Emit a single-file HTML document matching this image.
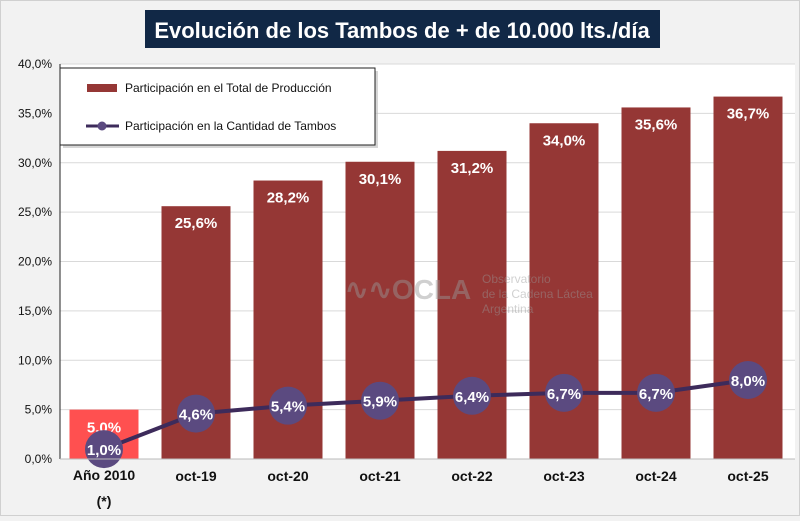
<!DOCTYPE html>
<html><head><meta charset="utf-8"><style>
body{margin:0;background:#f2f2f2;font-family:"Liberation Sans",sans-serif;}
svg text{font-family:"Liberation Sans",sans-serif;}
</style></head><body>
<svg width="800" height="516" viewBox="0 0 800 516">
<rect x="0" y="0" width="800" height="516" fill="#f2f2f2"/>
<rect x="0.5" y="0.5" width="799" height="515" fill="none" stroke="#d0d0d0"/>
<rect x="145" y="10" width="515" height="38" fill="#112846"/>
<text x="402" y="38" text-anchor="middle" font-size="22" font-weight="bold" fill="#fff">Evolución  de los Tambos  de + de 10.000 lts./día</text>
<rect x="60" y="64" width="735" height="395" fill="#fff"/>
<g id="grid"></g><g id="bars"></g>
<g opacity="0.45" fill="#999">
<text x="345" y="299" font-size="28" font-weight="bold">∿∿OCLA</text>
<text x="482" y="283" font-size="12">Observatorio</text>
<text x="482" y="298" font-size="12">de la Cadena Láctea</text>
<text x="482" y="313" font-size="12">Argentina</text>
</g>
<g id="line"></g><g id="axes"></g>
<g>
<rect x="63" y="71" width="315" height="77" fill="#bbb" opacity="0.6"/>
<rect x="60" y="68" width="315" height="77" fill="#fff" stroke="#222" stroke-width="1"/>
<rect x="87" y="84" width="30" height="8" fill="#953735"/>
<text x="125" y="92" font-size="12" fill="#111">Participación en el Total de Producción</text>
<line x1="86" y1="126" x2="119" y2="126" stroke="#3d2b5b" stroke-width="3"/>
<circle cx="102" cy="126" r="4.5" fill="#5b4a80"/>
<text x="125" y="130" font-size="12" fill="#111">Participación en la Cantidad de Tambos</text>
</g>
</svg>
<script>
const categories=["Año 2010","oct-19","oct-20","oct-21","oct-22","oct-23","oct-24","oct-25"];
const production=[5.0,25.6,28.2,30.1,31.2,34.0,35.6,36.7];
const tambos=[1.0,4.6,5.4,5.9,6.4,6.7,6.7,8.0];
const yTicks=[0,5,10,15,20,25,30,35,40];
const NS="http://www.w3.org/2000/svg";
const x0=58,band=92,yBase=459,pxPer=9.875;
const xc=i=>x0+band/2+i*band;
const y=v=>yBase-v*pxPer;
const fmt=v=>v.toFixed(1).replace('.',',')+'%';
function mk(tag,attrs,parent,txt){const e=document.createElementNS(NS,tag);for(const k in attrs)e.setAttribute(k,attrs[k]);if(txt!==undefined)e.textContent=txt;document.getElementById(parent).appendChild(e);return e;}
yTicks.forEach(t=>{
 const g=mk('line',{x1:60,x2:795,y1:y(t),y2:y(t),stroke:'#d9d9d9'},'grid');
 
 
 const l=mk('text',{x:52,y:y(t)+4,'text-anchor':'end','font-size':12,fill:'#111'},'axes',t.toFixed(1).replace('.',',')+'%');
 
 
});
const ax=mk('line',{x1:60,x2:60,y1:64,y2:yBase,stroke:'#222'},'axes');


const bx=mk('line',{x1:60,x2:795,y1:yBase,y2:yBase,stroke:'#bbb'},'axes');


production.forEach((v,i)=>{
 const r=mk('rect',{x:xc(i)-34.5,y:y(v),width:69,height:yBase-y(v),fill:i===0?'#ff5050':'#953735'},'bars');
 
 
 const t=mk('text',{x:xc(i),y:i===0?y(v)+23:y(v)+22,'text-anchor':'middle','font-size':15,'font-weight':'bold',fill:'#fff'},'bars',fmt(v));
 
 
 const c=mk('text',{x:xc(i),y:i===0?480:481,'text-anchor':'middle','font-size':14,'font-weight':'bold',fill:'#111'},'axes',categories[i]);
 
 
});
const s=mk('text',{x:xc(0),y:506,'text-anchor':'middle','font-size':14,'font-weight':'bold',fill:'#111'},'axes','(*)');


const pl=mk('polyline',{points:tambos.map((v,i)=>xc(i)+','+y(v)).join(' '),fill:'none',stroke:'#3d2b5b','stroke-width':4},'line');


tambos.forEach((v,i)=>{
 const c=mk('circle',{cx:xc(i),cy:y(v),r:19,fill:'#5b4a80'},'line');
 
 
 const t=mk('text',{x:xc(i),y:y(v)+6,'text-anchor':'middle','font-size':15,'font-weight':'bold',fill:'#fff'},'line',fmt(v));
 
 
});
</script>
</body></html>
